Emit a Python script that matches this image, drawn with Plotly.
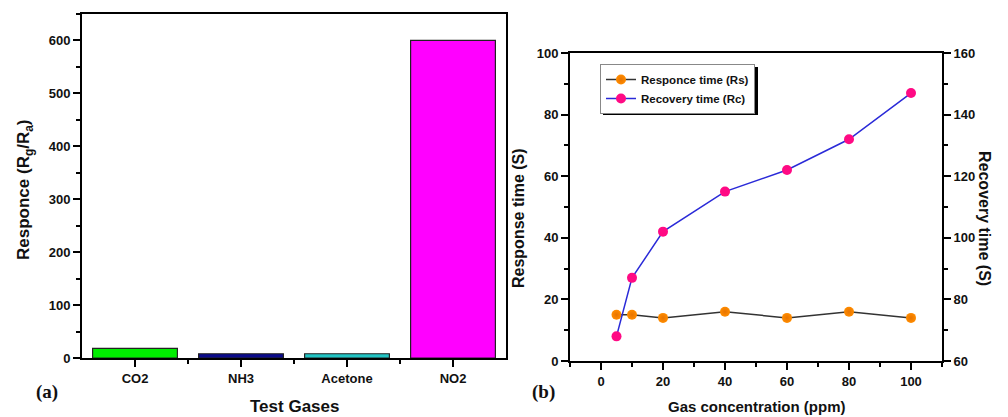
import plotly.graph_objects as go

# ---- data -------------------------------------------------------------
gases = ["CO2", "NH3", "Acetone", "NO2"]
gas_response = [18, 8, 8, 600]
bar_colors = ["#00ee00", "#0a0a8c", "#22c4c4", "#ff00ff"]

conc_ppm = [5, 10, 20, 40, 60, 80, 100]
response_time = [15, 15, 14, 16, 14, 16, 14]
recovery_time = [68, 87, 102, 115, 122, 132, 147]

W, H = 1008, 417
SANS = "Liberation Sans, Arial, sans-serif"


def px(x, y):
    """pixel position -> paper coordinates"""
    return x / W, 1 - y / H


fig = go.Figure()

# ---- (a) bar chart ----------------------------------------------------
idx = list(range(len(gases)))
fig.add_trace(go.Bar(
    x=idx, y=gas_response, width=0.8,
    marker=dict(color=bar_colors, line=dict(color="#222222", width=1.2)),
    xaxis="x", yaxis="y", showlegend=False,
))

# ---- (b) response / recovery time -------------------------------------
fig.add_trace(go.Scatter(
    x=conc_ppm, y=response_time, mode="lines+markers",
    name="Responce time (Rs)",
    line=dict(color="#333333", width=1.5),
    marker=dict(size=10, color="#ff8c00",
                gradient=dict(type="radial", color="#e87400"),
                line=dict(width=0)),
    xaxis="x2", yaxis="y3",
))
fig.add_trace(go.Scatter(
    x=conc_ppm, y=recovery_time, mode="lines+markers",
    name="Recovery time (Rc)",
    line=dict(color="#2a2ad8", width=1.5),
    marker=dict(size=10, color="#ff0a84", line=dict(width=0)),
    xaxis="x2", yaxis="y4",
))

axis_common = dict(
    showline=True, linecolor="black", linewidth=2,
    ticks="outside", tickcolor="black", tickwidth=2, ticklen=7,
    showgrid=False, zeroline=False, automargin=False,
)
tick_font = dict(family=SANS, size=13, color="#111", weight="bold")


def minor(dtick=None, tick0=0, vals=None):
    m = dict(ticks="outside", ticklen=4, tickwidth=2, tickcolor="black")
    if vals is not None:
        m.update(tickmode="array", tickvals=vals)
    else:
        m.update(dtick=dtick, tick0=tick0)
    return m


LEG_TOP = 64
fig.update_layout(
    width=W, height=H, autosize=False,
    margin=dict(l=0, r=0, t=0, b=0, pad=0, autoexpand=False),
    paper_bgcolor="white", plot_bgcolor="white",
    xaxis=dict(
        **axis_common, domain=[82 / W, 506 / W], range=[-0.5, 3.5],
        tickmode="array", tickvals=idx, ticktext=gases, mirror=True,
        tickfont=tick_font, minor=minor(vals=[0.5, 1.5, 2.5]),
        anchor="y",
    ),
    yaxis=dict(
        **axis_common, domain=[1 - 358 / H, 1 - 14 / H], range=[0, 650],
        dtick=100, tick0=0, mirror=True,
        tickfont=tick_font, minor=minor(50),
        anchor="x",
    ),
    xaxis2=dict(
        **axis_common, domain=[570 / W, 942 / W], range=[-10, 110],
        dtick=20, tick0=0, mirror=True,
        tickfont=tick_font, minor=minor(10),
        anchor="y3",
    ),
    yaxis3=dict(
        **axis_common, domain=[1 - 361 / H, 1 - 53 / H], range=[0, 100],
        dtick=20, tick0=0,
        tickfont=tick_font, minor=minor(10),
        anchor="x2",
    ),
    yaxis4=dict(
        **axis_common, range=[60, 160], dtick=20, tick0=60,
        overlaying="y3", side="right", anchor="x2",
        tickfont=tick_font, minor=minor(10, 60),
    ),
    legend=dict(
        x=600 / W, y=1 - LEG_TOP / H, xanchor="left", yanchor="top",
        bgcolor="white", bordercolor="#888888", borderwidth=1,
        font=dict(family=SANS, size=11.5, color="#111", weight="bold"),
        itemwidth=30, tracegroupgap=0,
    ),
)

# drop shadow behind the legend box
x0, y0 = px(603, LEG_TOP + 3)
x1, y1 = px(758, LEG_TOP + 51)
fig.add_shape(type="rect", xref="paper", yref="paper",
              x0=x0, y0=y1, x1=x1, y1=y0,
              fillcolor="black", line=dict(width=0), layer="above")


# ---- titles and panel letters ------------------------------------------
def label(text, x, y, size, family=SANS, angle=0, bold=True):
    ax, ay = px(x, y)
    fig.add_annotation(
        text=text, x=ax, y=ay, xref="paper", yref="paper",
        showarrow=False, textangle=angle, xanchor="center", yanchor="middle",
        font=dict(family=family, size=size, color="#111",
                  weight="bold" if bold else "normal"),
    )


SERIF = "Liberation Serif, Times New Roman, serif"
label("Responce (R<sub>g</sub>/R<sub>a</sub>)", 25, 190, 17, angle=-90)
label("Test Gases", 294, 406, 17)
label("(a)", 47, 392, 19, family=SERIF)

label("Response time (S)", 518, 218, 16, angle=-90)
label("Recovery time (S)", 985, 218, 16, angle=90)
label("Gas concentration (ppm)", 757, 406, 15)
label("(b)", 543, 392, 19, family=SERIF)

fig.write_html("out.html")
